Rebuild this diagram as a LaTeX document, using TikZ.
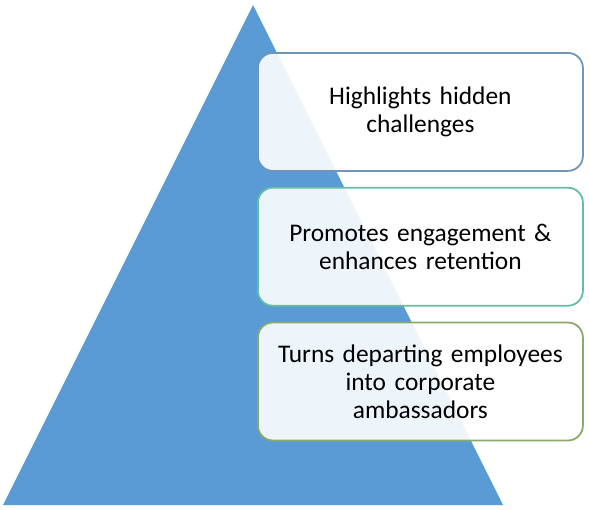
\documentclass[tikz,border=0pt]{standalone}
\usepackage{fontspec}
\setmainfont{Carlito}
\usepackage{xcolor}
\usetikzlibrary{positioning}
\definecolor{pyrblue}{HTML}{5B9BD5}
\definecolor{edgeblue}{HTML}{6F95BA}
\definecolor{edgeteal}{HTML}{62C0A0}
\definecolor{edgegreen}{HTML}{8AAA6C}

\begin{document}
\begin{tikzpicture}[
  x=1pt, y=-1pt,
  node distance=15pt,
  every node/.style={font=\fontsize{25.4}{28}\selectfont},
  benefit/.style={draw, rounded corners=15pt, line width=1.8pt,
    fill=white, fill opacity=0.9, text opacity=1,
    minimum width=325pt, minimum height=118pt,
    text width=312pt, align=center},
]
\useasboundingbox (0,0) rectangle (589,509);

% pyramid
\coordinate (apex) at (253,5);
\coordinate (baseL) at (3,505);
\coordinate (baseR) at (503,505);
\fill[pyrblue] (apex) -- (baseL) -- (baseR) -- cycle;

% the three benefits
\node[benefit, draw=edgeblue, anchor=north west] (hidden) at (257,52)
  {Highlights hidden\\challenges};
\node[benefit, draw=edgeteal, below=of hidden] (engage)
  {Promotes engagement \&\\enhances retention};
\node[benefit, draw=edgegreen, below=of engage] (ambass)
  {Turns departing employees\\into corporate\\ambassadors};
\end{tikzpicture}
\end{document}
